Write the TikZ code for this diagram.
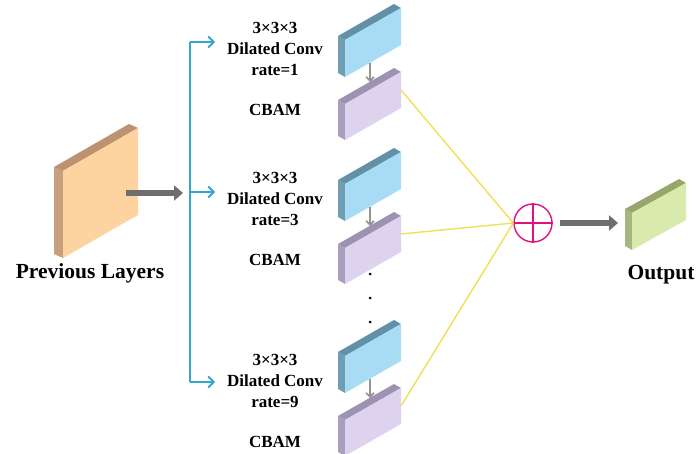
\documentclass[tikz,border=0pt]{standalone}
\usepackage{fontspec}
\setmainfont{Liberation Serif}
\usetikzlibrary{arrows.meta,calc}
\definecolor{peachF}{HTML}{FDD4A0}
\definecolor{peachS}{HTML}{C9A07E}
\definecolor{peachT}{HTML}{BC9270}
\definecolor{blueF}{HTML}{A8DBF4}
\definecolor{blueS}{HTML}{719DB4}
\definecolor{blueT}{HTML}{6290A8}
\definecolor{purpF}{HTML}{DDD3EF}
\definecolor{purpS}{HTML}{A89EBE}
\definecolor{purpT}{HTML}{9D92B2}
\definecolor{grnF}{HTML}{D8EAAC}
\definecolor{grnS}{HTML}{A6B67E}
\definecolor{grnT}{HTML}{97A76C}
\definecolor{cyanc}{HTML}{35A7CB}
\definecolor{yelc}{HTML}{F0E058}
\definecolor{magc}{HTML}{E0107F}
\definecolor{arrc}{HTML}{6E6E6E}
\def\sdx{-7}
\def\sdy{-4}
\newcommand\myslab[9]{%
  \coordinate (#1-tl) at (#2,#3);
  \coordinate (#1-tr) at ($(#1-tl)+(#4,-#6)$);
  \coordinate (#1-bl) at ($(#1-tl)+(0,#5)$);
  \coordinate (#1-br) at ($(#1-tr)+(0,#5)$);
  \coordinate (#1-mr) at ($(#1-tr)!0.5!(#1-br)$);
  \fill[#8] (#1-tl) -- (#1-bl) -- ++(\sdx,\sdy) -- ($(#1-tl)+(\sdx,\sdy)$) -- cycle;
  \fill[#9] (#1-tl) -- (#1-tr) -- ++(\sdx,\sdy) -- ($(#1-tl)+(\sdx,\sdy)$) -- cycle;
  \fill[#7] (#1-tl) -- (#1-tr) -- (#1-br) -- (#1-bl) -- cycle;
}
\tikzset{
  lbl/.style={font=\bfseries\fontsize{17}{20}\selectfont, inner sep=0pt},
  biglbl/.style={font=\bfseries\fontsize{21.5}{24}\selectfont, inner sep=0pt},
  cyanline/.style={draw=cyanc, line width=1.8pt},
  cyanarrow/.style={cyanline, -{Straight Barb[length=5.5pt,width=11pt]}},
  bigarrow/.style={draw=arrc, line width=6pt, -{Triangle[length=9pt,width=15pt]}},
  smallarrow/.style={draw=gray!85, line width=1.6pt, -{Straight Barb[length=4pt,width=8pt]}},
  yelline/.style={draw=yelc, line width=1.4pt},
}
\begin{document}
\begin{tikzpicture}[x=1pt,y=-1pt]
\useasboundingbox (0,0) rectangle (698,454);
% previous layers
\def\sdx{-9}\def\sdy{-4}
\myslab{prev}{63}{171}{75}{87}{43}{peachF}{peachS}{peachT}
\def\sdx{-7}\def\sdy{-4}
\node[biglbl] (prevlbl) at (90,273) {Previous Layers};
% blocks
\myslab{b1}{345}{40}{56}{37}{32}{blueF}{blueS}{blueT}
\myslab{p1}{345}{104}{56}{36}{32}{purpF}{purpS}{purpT}
\myslab{b2}{345}{184}{56}{37}{32}{blueF}{blueS}{blueT}
\myslab{p2}{345}{248}{56}{36}{32}{purpF}{purpS}{purpT}
\myslab{b3}{345}{356}{56}{37}{32}{blueF}{blueS}{blueT}
\myslab{p3}{345}{420}{56}{36}{32}{purpF}{purpS}{purpT}
% output
\myslab{out}{632}{213}{54}{37}{30}{grnF}{grnS}{grnT}
\node[biglbl] (outlbl) at (661,275) {Output};
% labels
\foreach \n/\yy/\r in {1/0/1,2/150/3,3/332/9}{
  \node[lbl] (k\n) at (275,28+\yy) {3×3×3};
  \node[lbl] (d\n) at (275,49+\yy) {Dilated Conv};
  \node[lbl] (r\n) at (275,70+\yy) {rate=\r};
  \node[lbl] (c\n) at (275,110+\yy) {CBAM};
}
% dots
\foreach \i/\yy in {1/274,2/298,3/322}
  \fill (370,\yy) circle (1.5pt);
% branch lines
\coordinate (bt) at (190,42);
\coordinate (bm) at (190,192);
\coordinate (bb) at (190,382);
\coordinate (at1) at (215,42);
\coordinate (at2) at (215,192);
\coordinate (at3) at (215,382);
\draw[cyanline] (bt) -- (bb);
\draw[cyanarrow] (bt) -- (at1);
\draw[cyanarrow] (bm) -- (at2);
\draw[cyanarrow] (bb) -- (at3);
\coordinate (pa0) at (126,193);
\coordinate (pa1) at (183,193);
\draw[bigarrow] (pa0) -- (pa1);
% small arrows
\foreach \n/\yy in {1/0,2/144,3/316}{
  \coordinate (sa\n) at (370,63+\yy);
  \coordinate (sb\n) at (370,82+\yy);
  \draw[smallarrow] (sa\n) -- (sb\n);
}
% sum
\node[circle, draw=magc, line width=1.4pt, minimum size=38pt, inner sep=0pt] (sum) at (533,223) {};
\draw[magc, line width=1.4pt] (sum.north) -- (sum.south) (sum.west) -- (sum.east);
\draw[yelline] (p1-mr) -- (sum.west);
\draw[yelline] (p2-mr) -- (sum.west);
\draw[yelline] (p3-mr) -- (sum.west);
\coordinate (oa0) at (560,223);
\coordinate (oa1) at (618,223);
\draw[bigarrow] (oa0) -- (oa1);
\end{tikzpicture}
\end{document}
